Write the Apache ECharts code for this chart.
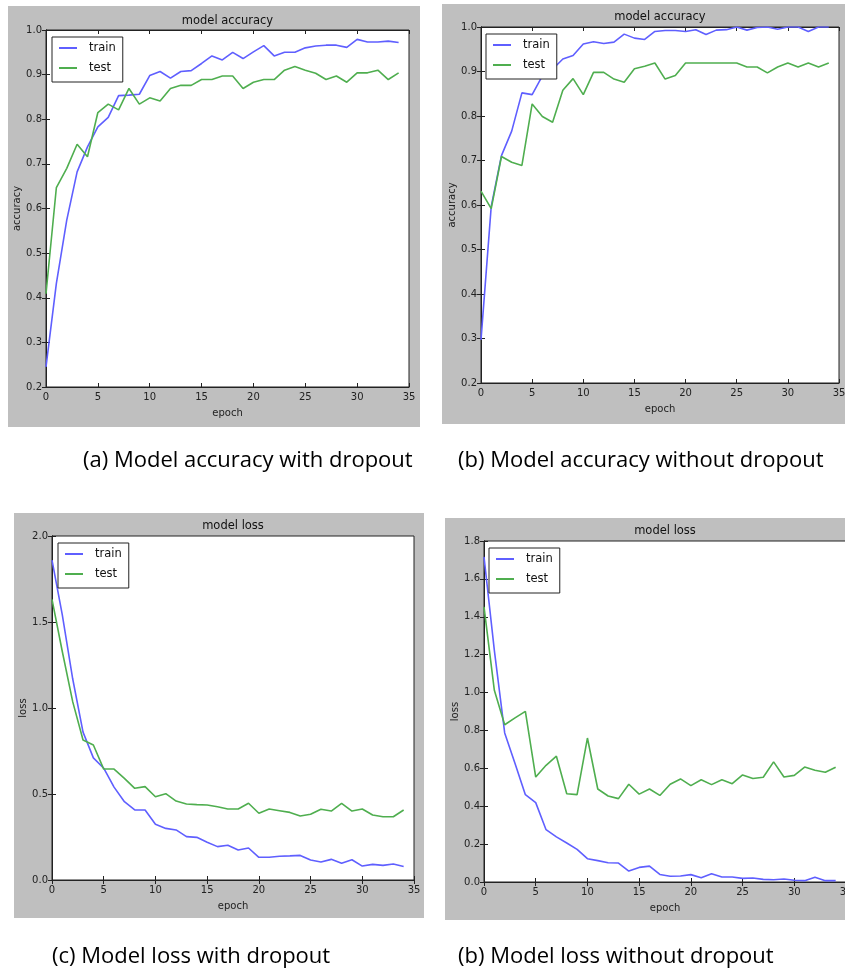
<!DOCTYPE html>
<html>
<head>
<meta charset="utf-8">
<script src="https://cdn.jsdelivr.net/npm/echarts@6/dist/echarts.min.js"></script>
<style>
  html, body { margin: 0; padding: 0; background: #fff; overflow: hidden; }
  #chart { width: 845px; height: 972px; }
</style>
</head>
<body>
<div id="chart"></div>
<script>
// Training history: epochs 0..34
const epochs = [0,1,2,3,4,5,6,7,8,9,10,11,12,13,14,15,16,17,18,19,20,21,22,23,24,25,26,27,28,29,30,31,32,33,34];

// (a) accuracy with dropout
const accDropTrain = [0.245,0.432,0.574,0.682,0.738,0.783,0.804,0.853,0.854,0.856,0.898,0.907,0.892,0.907,0.909,0.925,0.942,0.933,0.950,0.936,0.951,0.965,0.942,0.950,0.950,0.960,0.964,0.966,0.966,0.961,0.979,0.973,0.973,0.975,0.972];
const accDropTest  = [0.409,0.647,0.690,0.744,0.716,0.815,0.834,0.821,0.869,0.834,0.848,0.841,0.869,0.876,0.876,0.889,0.889,0.897,0.897,0.869,0.883,0.889,0.889,0.910,0.918,0.910,0.903,0.889,0.897,0.883,0.904,0.904,0.910,0.889,0.904];

// (b) accuracy without dropout
const accNoDropTrain = [0.297,0.597,0.711,0.766,0.852,0.848,0.890,0.905,0.928,0.936,0.962,0.967,0.963,0.966,0.984,0.975,0.972,0.990,0.992,0.992,0.990,0.994,0.983,0.993,0.994,1.000,0.993,0.999,1.000,0.995,1.000,1.000,0.990,1.000,1.000];
const accNoDropTest  = [0.631,0.592,0.709,0.696,0.689,0.827,0.799,0.786,0.858,0.884,0.848,0.898,0.898,0.883,0.876,0.906,0.912,0.919,0.883,0.891,0.919,0.919,0.919,0.919,0.919,0.919,0.910,0.910,0.897,0.910,0.919,0.910,0.919,0.910,0.919];

// (c) loss with dropout
const lossDropTrain = [1.86,1.54,1.17,0.86,0.71,0.65,0.54,0.455,0.407,0.407,0.324,0.300,0.291,0.252,0.248,0.219,0.194,0.202,0.174,0.186,0.132,0.132,0.138,0.140,0.143,0.116,0.105,0.120,0.097,0.118,0.081,0.091,0.085,0.093,0.078];
const lossDropTest  = [1.632,1.327,1.037,0.814,0.785,0.645,0.645,0.591,0.533,0.543,0.484,0.502,0.459,0.442,0.438,0.436,0.426,0.413,0.413,0.446,0.388,0.413,0.403,0.393,0.372,0.382,0.411,0.401,0.446,0.401,0.413,0.378,0.368,0.368,0.407];

// (d) loss without dropout
const lossNoDropTrain = [1.716,1.223,0.787,0.625,0.461,0.419,0.276,0.238,0.206,0.172,0.123,0.113,0.102,0.100,0.058,0.077,0.084,0.040,0.030,0.032,0.039,0.023,0.044,0.026,0.026,0.019,0.021,0.014,0.012,0.016,0.009,0.007,0.025,0.007,0.007];
const lossNoDropTest  = [1.452,1.012,0.830,0.866,0.901,0.554,0.616,0.664,0.466,0.461,0.760,0.491,0.454,0.440,0.516,0.464,0.491,0.457,0.516,0.544,0.509,0.540,0.514,0.540,0.519,0.565,0.546,0.553,0.634,0.554,0.563,0.607,0.590,0.579,0.606];

const xTicks = [0, 35, 5];          // min, max, step
const accTicks = [0.2, 1.0, 0.1];
const lossDropTicks = [0.0, 2.0, 0.5];
const lossNoDropTicks = [0.0, 1.8, 0.2];

const captions = [
  '(a) Model accuracy with dropout',
  '(b) Model accuracy without dropout',
  '(c) Model loss with dropout',
  '(b) Model loss without dropout'
];

const BLUE = '#5f5fff';
const GREEN = '#4fae4f';
const INK = '#222';
const PANEL_GRAY = '#bfbfbf';
const TICK_FONT = 'DejaVu Sans';

// Panel layout: gray frame, plot box, text anchors
const panels = [
  { frame: [8, 6, 412, 421],   plot: [46, 30, 363, 357],  title: 'model accuracy', ylabel: 'accuracy',
    titleY: 21, yTicks: accTicks, train: accDropTrain, test: accDropTest, legend: [52, 37] },
  { frame: [442, 4, 410, 420], plot: [481, 27, 358, 356], title: 'model accuracy', ylabel: 'accuracy',
    titleY: 17, yTicks: accTicks, train: accNoDropTrain, test: accNoDropTest, legend: [486, 34] },
  { frame: [14, 513, 410, 405], plot: [52, 536, 362, 344], title: 'model loss', ylabel: 'loss',
    titleY: 526, yTicks: lossDropTicks, train: lossDropTrain, test: lossDropTest, legend: [58, 543] },
  { frame: [445, 518, 410, 402], plot: [484, 541, 362, 341], title: 'model loss', ylabel: 'loss',
    titleY: 531, yTicks: lossNoDropTicks, train: lossNoDropTrain, test: lossNoDropTest, legend: [489, 548] }
];

const captionPos = [[83, 461], [458, 461], [52, 957], [458, 957]];

const grid = [], xAxis = [], yAxis = [], series = [], legend = [], graphic = [];

function pairs(vals) { return epochs.map((e, i) => [e, vals[i]]); }

panels.forEach((p, k) => {
  graphic.push({
    type: 'rect', z: -100, silent: true,
    shape: { x: p.frame[0], y: p.frame[1], width: p.frame[2], height: p.frame[3] },
    style: { fill: PANEL_GRAY }
  });
  graphic.push({
    type: 'text', z: 100, silent: true,
    x: p.plot[0] + p.plot[2] / 2, y: p.titleY,
    style: { text: p.title, font: '11.5px "DejaVu Sans"', fill: '#111', align: 'center', verticalAlign: 'middle' }
  });

  grid.push({
    left: p.plot[0], top: p.plot[1], width: p.plot[2], height: p.plot[3],
    outerBoundsMode: 'none', containLabel: false,
    show: true, backgroundColor: '#fff', borderColor: INK, borderWidth: 1, z: 0
  });

  const tickCommon = { show: true, inside: true, length: 4, lineStyle: { color: INK, width: 1 } };

  xAxis.push({
    type: 'value', gridIndex: k, position: 'bottom',
    min: xTicks[0], max: xTicks[1], interval: xTicks[2],
    name: 'epoch', nameLocation: 'middle', nameGap: 21,
    nameTextStyle: { fontFamily: TICK_FONT, fontSize: 10, color: '#222' },
    axisLine: { show: true, lineStyle: { color: INK, width: 1 } },
    axisTick: tickCommon,
    axisLabel: { margin: 5, fontFamily: TICK_FONT, fontSize: 10, color: '#222' },
    splitLine: { show: false }
  });
  xAxis.push({
    type: 'value', gridIndex: k, position: 'top',
    min: xTicks[0], max: xTicks[1], interval: xTicks[2],
    axisLine: { show: true, lineStyle: { color: INK, width: 1 } },
    axisTick: tickCommon, axisLabel: { show: false }, splitLine: { show: false }
  });
  yAxis.push({
    type: 'value', gridIndex: k, position: 'left',
    min: p.yTicks[0], max: p.yTicks[1], interval: p.yTicks[2],
    name: p.ylabel, nameLocation: 'middle', nameGap: 24,
    nameTextStyle: { fontFamily: TICK_FONT, fontSize: 10, color: '#222' },
    axisLine: { show: true, lineStyle: { color: INK, width: 1 } },
    axisTick: tickCommon,
    axisLabel: { margin: 4, fontFamily: TICK_FONT, fontSize: 10, color: '#222',
                 formatter: v => v.toFixed(1) },
    splitLine: { show: false }
  });
  yAxis.push({
    type: 'value', gridIndex: k, position: 'right',
    min: p.yTicks[0], max: p.yTicks[1], interval: p.yTicks[2],
    axisLine: { show: true, lineStyle: { color: INK, width: 1 } },
    axisTick: tickCommon, axisLabel: { show: false }, splitLine: { show: false }
  });

  series.push({
    name: 'train', type: 'line', xAxisIndex: 2 * k, yAxisIndex: 2 * k,
    data: pairs(p.train), symbol: 'none', smooth: false, clip: true,
    lineStyle: { color: BLUE, width: 1.6 }, itemStyle: { color: BLUE }, z: 3
  });
  series.push({
    name: 'test', type: 'line', xAxisIndex: 2 * k, yAxisIndex: 2 * k,
    data: pairs(p.test), symbol: 'none', smooth: false, clip: true,
    lineStyle: { color: GREEN, width: 1.6 }, itemStyle: { color: GREEN }, z: 3
  });

  legend.push({
    left: p.legend[0], top: p.legend[1], orient: 'vertical',
    data: ['train', 'test'], selectedMode: false,
    icon: 'rect', itemWidth: 18, itemHeight: 2, itemGap: 8,
    padding: [5, 7, 8, 7],
    backgroundColor: '#fff', borderColor: INK, borderWidth: 1, borderRadius: 0,
    textStyle: { fontFamily: TICK_FONT, fontSize: 11.5, color: '#111', padding: [0, 0, 0, 7] },
    z: 10
  });
});

captions.forEach((c, i) => {
  graphic.push({
    type: 'text', silent: true,
    x: captionPos[i][0], y: captionPos[i][1],
    style: { text: c, font: '22px "Open Sans"', fill: '#000', align: 'left', verticalAlign: 'middle' }
  });
});

const chart = echarts.init(document.getElementById('chart'), null, { renderer: 'canvas' });
chart.setOption({
  backgroundColor: '#fff',
  animation: false,
  grid, xAxis, yAxis, series, legend,
  graphic: { elements: graphic }
});
</script>
</body>
</html>
